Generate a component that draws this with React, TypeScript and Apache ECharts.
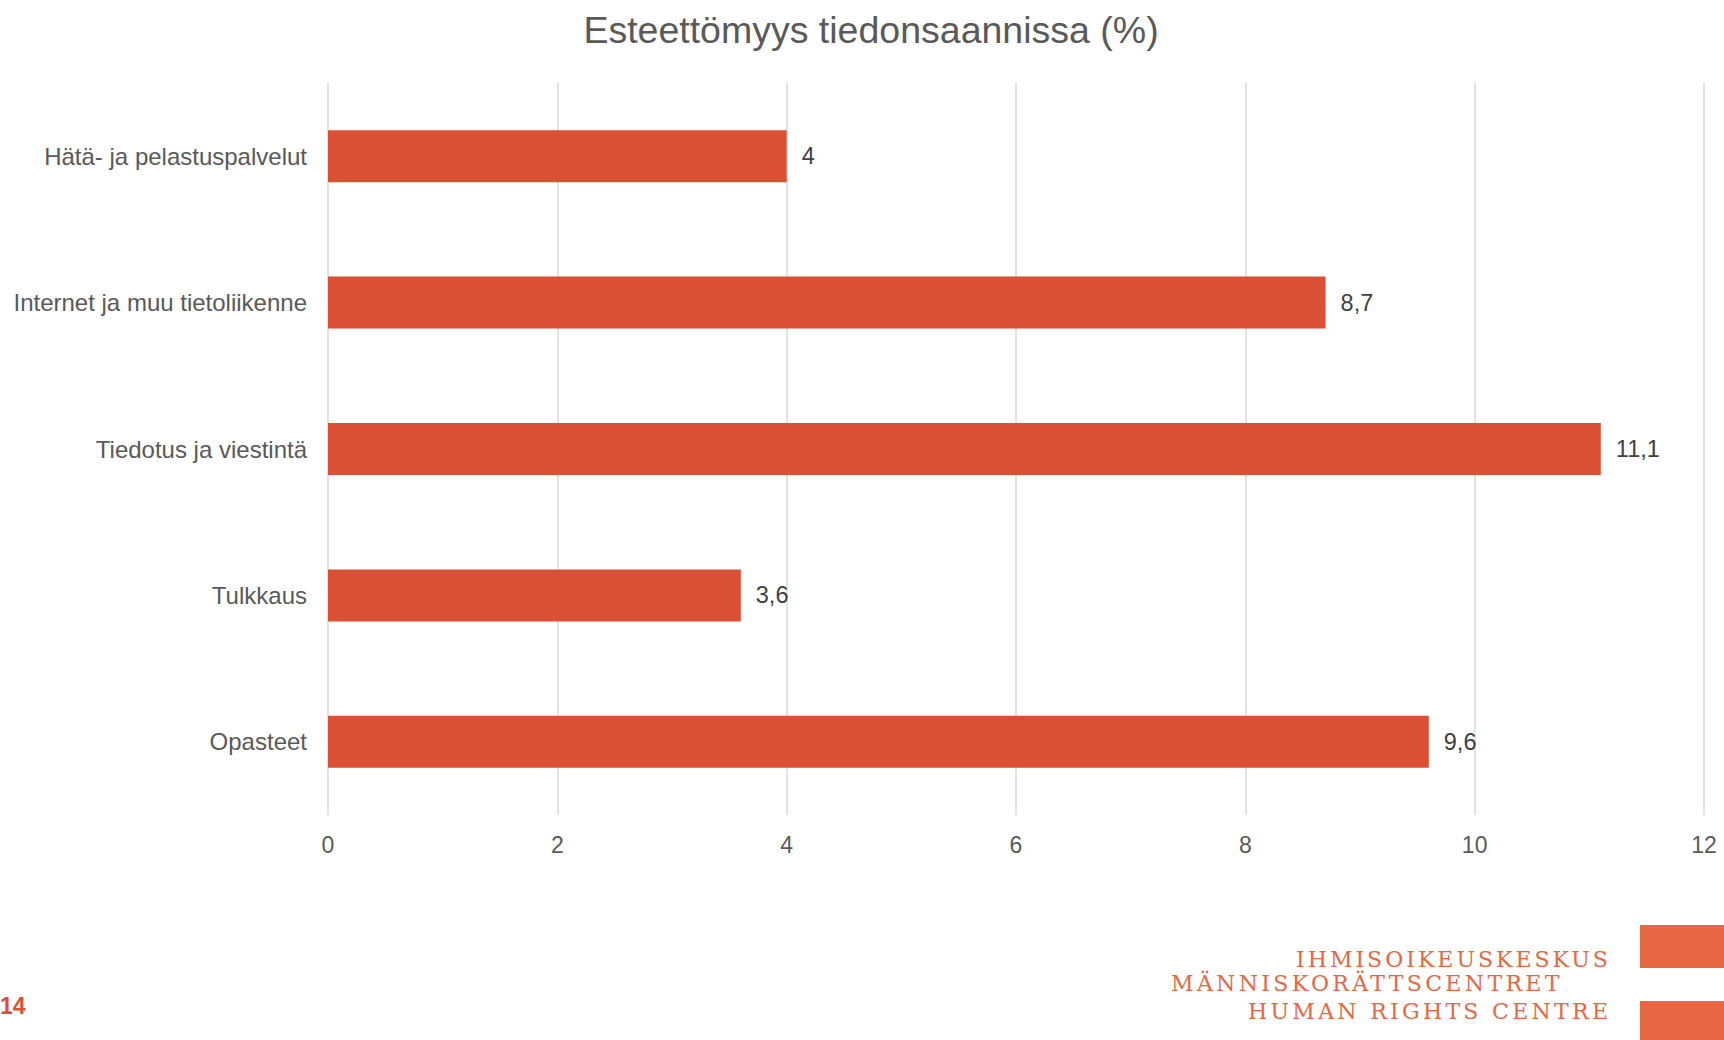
import React, { useEffect, useRef } from "react";
import * as echarts from "echarts";

const categories = [
  "Hätä- ja pelastuspalvelut",
  "Internet ja muu tietoliikenne",
  "Tiedotus ja viestintä",
  "Tulkkaus",
  "Opasteet",
];
const values = [4, 8.7, 11.1, 3.6, 9.6];
const titleText = "Esteettömyys tiedonsaannissa (%)";
const pageNumber = "14";
const logoLines = ["IHMISOIKEUSKESKUS", "MÄNNISKORÄTTSCENTRET", "HUMAN RIGHTS CENTRE"];

const BAR = "#DB5035";
const LOGO = "#E66742";
const TEXT = "#595959";

export default function App() {
  const ref = useRef<HTMLDivElement>(null);
  useEffect(() => {
    if (!ref.current) return;
    const chart = echarts.init(ref.current, null, { renderer: "svg" });
    chart.setOption({
      animation: false,
      backgroundColor: "#ffffff",
      title: {
        text: titleText,
        left: 866,
        top: 6,
        textAlign: "center",
        textStyle: {
          fontFamily: "Liberation Sans, Arial, sans-serif",
          fontSize: 37.5,
          fontWeight: "normal",
          color: TEXT,
        },
      },
      grid: { left: 328, right: 20, top: 83, bottom: 225, containLabel: false },
      xAxis: {
        type: "value",
        min: 0,
        max: 12,
        interval: 2,
        axisLine: { show: false },
        axisTick: { show: false },
        splitLine: { show: true, lineStyle: { color: "#D9D9D9", width: 1.5 } },
        axisLabel: {
          color: TEXT,
          fontSize: 23,
          margin: 18,
          fontFamily: "Liberation Sans, Arial, sans-serif",
        },
      },
      yAxis: {
        type: "category",
        data: categories,
        inverse: true,
        axisLine: { show: false },
        axisTick: { show: false },
        splitLine: { show: false },
        axisLabel: {
          color: TEXT,
          fontSize: 24,
          margin: 21,
          fontFamily: "Liberation Sans, Arial, sans-serif",
        },
      },
      series: [
        {
          type: "bar",
          data: values,
          barWidth: 52,
          itemStyle: { color: BAR },
          label: {
            show: true,
            position: "right",
            distance: 15,
            color: "#404040",
            fontSize: 23.5,
            fontFamily: "Liberation Sans, Arial, sans-serif",
            formatter: (p: any) => String(p.value).replace(".", ","),
          },
        },
      ],
      graphic: [
        {
          type: "text",
          left: 0,
          top: 994,
          style: {
            text: pageNumber,
            fill: BAR,
            font: "bold 23px 'Liberation Sans', Arial, sans-serif",
          },
        },
        {
          type: "rect",
          shape: { x: 1640, y: 925, width: 84, height: 43 },
          style: { fill: LOGO },
        },
        {
          type: "rect",
          shape: { x: 1640, y: 1001, width: 84, height: 39 },
          style: { fill: LOGO },
        },
      ],
    });
    return () => chart.dispose();
  }, []);

  const lineStyle: React.CSSProperties = {
    position: "absolute",
    fontFamily: "'DejaVu Serif', 'Liberation Serif', serif",
    fontSize: 22,
    lineHeight: "22px",
    color: LOGO,
    whiteSpace: "nowrap",
  };

  return (
    <div style={{ position: "fixed", left: 0, top: 0, width: 1724, height: 1040, background: "#fff" }}>
      <div ref={ref} style={{ position: "absolute", left: 0, top: 0, width: 1724, height: 1040 }} />
      <div style={{ ...lineStyle, left: 1296, top: 949, letterSpacing: 3.0 }}>{logoLines[0]}</div>
      <div style={{ ...lineStyle, left: 1171, top: 973, letterSpacing: 3.35 }}>{logoLines[1]}</div>
      <div style={{ ...lineStyle, left: 1248, top: 1001, letterSpacing: 3.3 }}>{logoLines[2]}</div>
    </div>
  );
}
